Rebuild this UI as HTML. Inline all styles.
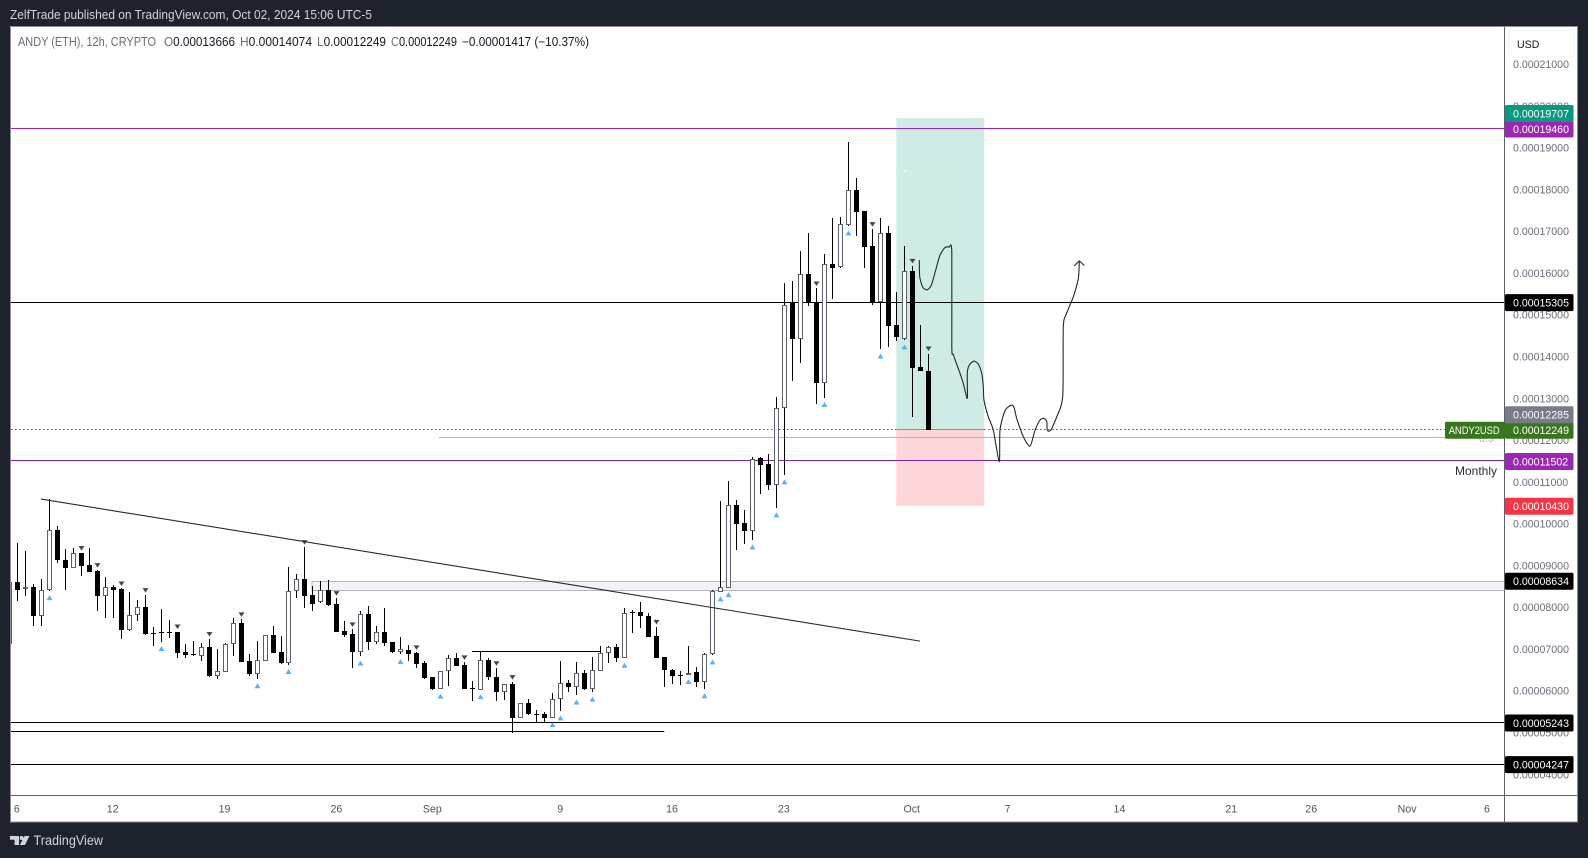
<!DOCTYPE html>
<html lang="en">
<head>
<meta charset="utf-8">
<title>ANDY (ETH) 12h chart</title>
<style>
html,body{margin:0;padding:0;background:#1e222d;width:1588px;height:858px;overflow:hidden}
svg{display:block;font-family:"Liberation Sans",sans-serif}
</style>
</head>
<body>
<svg id="chart" xmlns="http://www.w3.org/2000/svg" width="1588" height="858" viewBox="0 0 1588 858">
  <defs><clipPath id="pane-clip"><rect x="11" y="27" width="1493.5" height="768"/></clipPath></defs>
  <rect x="0" y="0" width="1588" height="858" fill="#1e222d"/>
  <text x="10" y="19" font-size="13" fill="#d1d4dc" textLength="362" lengthAdjust="spacingAndGlyphs">ZelfTrade published on TradingView.com, Oct 02, 2024 15:06 UTC-5</text>
  <rect x="10.5" y="26.5" width="1567" height="795.5" fill="#ffffff" stroke="#8a8d97" stroke-width="1"/>
  <g id="pane" clip-path="url(#pane-clip)"></g>
  <line x1="1504.5" y1="27" x2="1504.5" y2="822" stroke="#5d606b" stroke-width="1"/>
  <line x1="11" y1="795.5" x2="1577" y2="795.5" stroke="#5d606b" stroke-width="1"/>
  <g id="price-axis"></g>
  <g id="time-axis"></g>
  <text x="1479" y="442" font-size="10.6" fill="#b2b5be">0.5</text>
  <text x="1455" y="475" font-size="12" fill="#2a2e39" textLength="42" lengthAdjust="spacingAndGlyphs">Monthly</text>
  <g id="price-tags"></g>
  <rect x="1505.5" y="27" width="71" height="33.5" fill="#ffffff"/>
  <g>
    <rect x="1508.5" y="31" width="66" height="26" rx="4" fill="#ffffff" stroke="#f0f3fa" stroke-width="1"/>
    <text x="1517" y="48" font-size="10.6" fill="#131722">USD</text>
  </g>
  <g font-size="12.5">
    <text x="18" y="46" fill="#6a6d78" textLength="138" lengthAdjust="spacingAndGlyphs">ANDY (ETH), 12h, CRYPTO</text>
    <text x="164" y="46" fill="#131722" textLength="71" lengthAdjust="spacingAndGlyphs"><tspan fill="#6a6d78">O</tspan>0.00013666</text>
    <text x="240" y="46" fill="#131722" textLength="72" lengthAdjust="spacingAndGlyphs"><tspan fill="#6a6d78">H</tspan>0.00014074</text>
    <text x="317" y="46" fill="#131722" textLength="69" lengthAdjust="spacingAndGlyphs"><tspan fill="#6a6d78">L</tspan>0.00012249</text>
    <text x="391" y="46" fill="#131722" textLength="66" lengthAdjust="spacingAndGlyphs"><tspan fill="#6a6d78">C</tspan>0.00012249</text>
    <text x="462" y="46" fill="#131722" textLength="127" lengthAdjust="spacingAndGlyphs">−0.00001417 (−10.37%)</text>
  </g>
  <g>
    <polygon points="10,836 19,836 19,845 14.6,845 14.6,839.7 10,839.7" fill="#d1d4dc"/>
    <circle cx="21.6" cy="838" r="2" fill="#d1d4dc"/>
    <polygon points="24.6,836 29.4,836 25,845 19.8,845" fill="#d1d4dc"/>
    <text x="33.5" y="845" font-size="13.5" fill="#d1d4dc" textLength="69.5" lengthAdjust="spacingAndGlyphs">TradingView</text>
  </g>
</svg>
<script>
// All prices are in units of 0.00001 ETH. Index = bar number (12h bars); bar 1 is Aug 6.
const opens = [7.12,
8.60,8.43,8.49,7.80,8.41,9.84,9.13,8.95,9.29,9.01,
8.87,8.28,8.49,8.44,7.46,7.81,8.01,7.38,7.40,7.40,
7.40,6.93,6.87,6.84,7.04,6.36,6.46,7.11,7.62,6.71,
6.41,6.72,7.34,6.92,6.67,8.38,8.67,8.29,8.12,8.41,
8.07,7.43,7.35,6.94,7.84,7.18,7.41,7.16,6.94,6.98,
6.91,6.67,6.32,6.05,6.47,6.78,6.62,6.07,6.03,6.75,
6.33,5.98,6.16,5.36,5.70,5.45,5.45,5.36,5.80,6.18,
6.08,6.43,6.05,6.48,6.90,7.04,6.79,7.89,7.88,7.78,
7.31,6.80,6.51,6.39,6.39,6.44,6.20,6.87,8.37,8.47,
10.46,10.01,9.83,11.57,11.42,10.93,12.76,15.30,14.43,15.98,
15.30,13.38,16.22,16.15,17.15,17.98,17.48,16.65,15.30,16.97,
14.76,14.43,16.04,13.75,13.666];
const highs = [8.8,
9.54,9.35,8.55,8.68,10.58,9.94,9.40,9.41,9.30,9.42,
8.89,8.72,8.53,8.45,8.37,8.17,8.29,7.53,7.95,7.70,
7.42,7.12,7.19,7.15,7.24,7.00,7.14,7.74,7.71,6.88,
7.19,7.34,7.55,7.31,8.96,8.80,9.44,8.51,8.63,8.65,
8.22,7.67,7.47,7.90,8.03,7.55,7.98,7.17,7.29,7.10,
6.92,6.71,6.34,6.47,6.86,6.90,6.68,6.23,6.94,6.78,
6.54,6.16,6.21,5.72,5.80,5.53,5.49,5.94,6.71,6.26,
6.68,6.51,6.80,7.07,7.07,7.12,7.98,7.93,8.13,7.86,
7.53,6.80,6.52,6.47,7.07,6.56,6.90,8.41,10.54,11.02,
10.57,10.34,11.60,11.59,11.67,13.03,15.75,15.81,16.53,16.96,
15.63,16.45,17.32,17.33,19.13,18.27,17.49,17.05,17.31,17.12,
15.54,16.64,16.17,14.75,14.074];
const lows = [7.0,
8.16,8.28,7.56,7.56,8.40,9.07,8.42,8.95,8.76,8.85,
7.92,7.75,7.75,7.23,7.44,7.68,7.34,7.08,7.18,7.27,
6.79,6.79,6.83,6.72,6.34,6.29,6.46,6.84,6.70,6.36,
6.29,6.72,6.91,6.65,6.63,8.23,7.99,7.90,8.11,8.02,
7.42,7.30,6.55,6.83,6.98,7.12,7.08,6.91,6.87,6.71,
6.55,6.28,6.01,6.04,6.12,6.59,6.04,5.76,6.03,6.27,
5.76,5.78,5.00,5.34,5.41,5.25,5.25,5.36,5.52,5.98,
5.90,6.02,5.97,6.48,6.67,6.70,6.78,7.39,7.51,7.30,
6.79,6.10,6.16,6.15,6.39,6.10,6.05,6.86,8.37,8.47,
9.37,9.51,9.61,10.71,10.81,10.38,11.17,13.42,13.85,15.20,
12.86,13.02,15.39,16.13,17.13,16.89,16.13,15.24,14.18,14.24,
14.38,14.40,12.56,13.66,12.249];
const closes = [8.61,
8.42,8.48,7.80,8.41,9.84,9.12,8.95,9.29,9.00,8.85,
8.28,8.48,8.41,7.46,7.81,8.00,7.37,7.37,7.39,7.39,
6.91,6.86,6.86,7.04,6.36,6.47,7.11,7.62,6.70,6.41,
6.73,7.33,6.91,6.67,8.38,8.67,8.28,8.09,8.41,8.06,
7.42,7.34,6.94,7.83,7.18,7.40,7.15,6.94,6.99,6.89,
6.65,6.31,6.04,6.47,6.78,6.60,6.05,6.06,6.75,6.34,
5.98,6.16,5.36,5.70,5.45,5.44,5.36,5.80,6.18,6.08,
6.42,6.04,6.49,6.90,7.04,6.79,7.86,7.88,7.78,7.30,
6.79,6.51,6.36,6.37,6.43,6.20,6.87,8.38,8.48,10.46,
10.00,9.83,11.56,11.41,10.93,12.76,15.23,14.42,15.97,15.30,
13.38,16.21,16.13,17.17,17.98,17.47,16.63,15.30,16.97,14.74,
14.48,16.04,13.73,13.66,12.249];
const buySignalBars = [5,19,31,35,44,49,54,59,68,69,71,73,77,85,87,88,89,90,93,96,97,102,105,109,112];
const sellSignalBars = [9,11,14,17,21,25,29,37,41,43,51,57,61,63,81,101,108,113,115];
const priceTicks = [4,5,6,7,8,9,10,11,12,13,14,15,16,17,18,19,20,21];
const timeLabels = ['6','12','19','26','Sep','9','16','23','Oct','7','14','21','26','Nov','6'];
const timeLabelDays = [0,6,13,20,26,34,41,48,56,62,69,76,81,87,92];
const tagPrices = [4.247,5.243,8.634,10.430,11.502,12.249,12.285,15.305,19.460,19.707];
const sketchBars = [113.89,113.94,114.32,114.89,115.39,115.94,116.48,117.11,117.61,117.95,117.95,118.15,118.98,119.39,119.89,119.89,120.14,120.73,121.27,121.70,121.90,121.98,122.52,123.15,123.90,123.99,124.62,125.46,125.78,126.08,126.91,127.75,128.38,129.00,129.50,129.84,129.91,130.34,131.09,131.84,131.91,132.34,133.16,133.79,133.91];
const sketchPrices = [16.30,15.91,15.66,15.60,15.71,16.07,16.43,16.61,16.62,16.51,14.24,14.04,13.60,13.36,13.00,13.60,13.80,13.89,13.82,13.60,13.28,12.96,12.56,12.24,11.48,12.24,12.71,12.84,12.76,12.52,12.08,11.86,12.24,12.48,12.52,12.44,12.24,12.24,12.56,13.04,14.72,15.04,15.43,15.87,16.29];
const arrowBars = [133.29,133.91,134.54];
const arrowPrices = [16.17,16.29,16.18];
const trendBars = [3.96,113.98];
const trendPrices = [10.59,7.19];
const rangeHighBars = [57.91,73.93];
const rangeHighPrice = 6.95;
const supportEndBar = 81.97;
const supportPrice = 5.03;
const zonePrices = [8.62,8.40];
const zoneStartBar = 37.88;
const fibPrice = 12.07;
const fibStartBar = 53.78;
const positionBars = [111,122];
const positionPrices = [19.707,12.249,10.430];
const monthlyLevel = 11.502;
const resistanceLevel = 19.46;
const midLevel = 15.305;
const lowLevel1 = 5.243;
const lowLevel2 = 4.247;
const lastPrice = 12.249;

const NS = 'http://www.w3.org/2000/svg';
const tagColors = ['#000000','#000000','#000000','#f23645','#9c27b0','#38761d','#787b86','#000000','#9c27b0','#089981'];
const xOf = b => 9.34 + 7.99 * b;
const yOf = p => 147.7 + (19 - p) * 41.78;
const crisp = v => Math.floor(v) + 0.5;
const PANE_L = 11, PANE_R = 1504.5;
const pane = document.getElementById('pane');
const axisP = document.getElementById('price-axis');
const axisT = document.getElementById('time-axis');
const tagsG = document.getElementById('price-tags');

function mk(tag, attrs, parent) {
  const n = document.createElementNS(NS, tag);
  for (const k in attrs) n.setAttribute(k, attrs[k]);
  parent.appendChild(n);
  return n;
}
function hline(price, x1, x2, color, dash) {
  const a = {x1: x1, x2: x2, y1: crisp(yOf(price)), y2: crisp(yOf(price)), stroke: color, 'stroke-width': 1};
  if (dash) a['stroke-dasharray'] = dash;
  return mk('line', a, pane);
}
let el;

// position tool
el = mk('rect', {x: xOf(positionBars[0]), y: yOf(positionPrices[0]), width: xOf(positionBars[1]) - xOf(positionBars[0]), height: yOf(positionPrices[1]) - yOf(positionPrices[0]), fill: '#cfebe5'}, pane);


el = mk('rect', {x: xOf(positionBars[0]), y: yOf(positionPrices[1]), width: xOf(positionBars[1]) - xOf(positionBars[0]), height: yOf(positionPrices[2]) - yOf(positionPrices[1]), fill: '#fcd6d9'}, pane);


el = mk('rect', {x: xOf(positionBars[0]) + 7.5, y: 170, width: 2, height: 2, fill: '#f2faf8'}, pane);



// zone
el = mk('rect', {x: xOf(zoneStartBar), y: crisp(yOf(zonePrices[0])), width: PANE_R - xOf(zoneStartBar), height: Math.round(yOf(zonePrices[1]) - yOf(zonePrices[0])), fill: '#f1f3f6', stroke: '#b2b5be', 'stroke-width': 1}, pane);



// horizontal levels
el = hline(resistanceLevel, PANE_L, PANE_R, '#9c27b0');


el = hline(midLevel, PANE_L, PANE_R, '#000000');


el = hline(lastPrice, PANE_L, xOf(positionBars[0]), '#38761d', '1.5 2.5');


el = hline(lastPrice, xOf(positionBars[1]), 1445, '#38761d', '1.5 2.5');


el = hline(positionPrices[1], xOf(positionBars[0]), xOf(positionBars[1]), '#8f9198');


el = hline(fibPrice, xOf(fibStartBar), PANE_R, '#b2b5be');


el = hline(monthlyLevel, PANE_L, PANE_R, '#8424a0');


el = hline(lowLevel1, PANE_L, PANE_R, '#000000');


el = hline(lowLevel2, PANE_L, PANE_R, '#000000');


el = hline(supportPrice, PANE_L, xOf(supportEndBar), '#000000');


el = hline(rangeHighPrice, xOf(rangeHighBars[0]), xOf(rangeHighBars[1]), '#000000');



// candles
opens.forEach((o, i) => {
  const c = closes[i];
  const cx = Math.floor(xOf(i));
  const up = c > o;
  const top = Math.round(yOf(Math.max(o, c)));
  const bot = Math.max(Math.round(yOf(Math.min(o, c))), top + 1);
  const g = mk('g', {}, pane);
  
  
  const wTop = Math.round(yOf(highs[i]));
  const wBot = Math.round(yOf(lows[i]));
  const w = mk('rect', {x: cx, y: wTop, width: 1, height: Math.max(wBot - wTop, 1), fill: '#000000'}, g);
  
  
  const b = up
    ? mk('rect', {x: cx - 1.5, y: top + 0.5, width: 4, height: Math.max(bot - top - 1, 1), fill: '#ffffff', stroke: '#5d606b', 'stroke-width': 1}, g)
    : mk('rect', {x: cx - 2, y: top, width: 5, height: bot - top, fill: '#000000'}, g);
  
  
});

// signals
buySignalBars.forEach(b => {
  const cx = Math.floor(xOf(b)) + 0.5, cy = yOf(lows[b]) + 7;
  const t = mk('polygon', {points: `${cx - 3},${cy + 2.5} ${cx + 3},${cy + 2.5} ${cx},${cy - 2.5}`, fill: '#5cb0f5'}, pane);
  
  
});
sellSignalBars.forEach(b => {
  const cx = Math.floor(xOf(b)) + 0.5, cy = yOf(highs[b]) - 5;
  const t = mk('polygon', {points: `${cx - 3},${cy - 2} ${cx + 3},${cy - 2} ${cx},${cy + 2.5}`, fill: '#434651'}, pane);
  
  
});

// trendline
el = mk('line', {x1: xOf(trendBars[0]), y1: yOf(trendPrices[0]), x2: xOf(trendBars[1]), y2: yOf(trendPrices[1]), stroke: '#2a2a2e', 'stroke-width': 1.1}, pane);



// hand-drawn projection, smoothed with a Catmull-Rom spline through the read points
function smoothPath(bs, ps) {
  const pts = bs.map((b, i) => [xOf(b), yOf(ps[i])]);
  let d = 'M' + pts[0][0].toFixed(1) + ' ' + pts[0][1].toFixed(1);
  for (let i = 0; i < pts.length - 1; i++) {
    const p0 = pts[Math.max(i - 1, 0)], p1 = pts[i], p2 = pts[i + 1], p3 = pts[Math.min(i + 2, pts.length - 1)];
    const c1x = p1[0] + (p2[0] - p0[0]) / 8, c1y = p1[1] + (p2[1] - p0[1]) / 8;
    const c2x = p2[0] - (p3[0] - p1[0]) / 8, c2y = p2[1] - (p3[1] - p1[1]) / 8;
    d += ' C' + c1x.toFixed(1) + ' ' + c1y.toFixed(1) + ' ' + c2x.toFixed(1) + ' ' + c2y.toFixed(1) + ' ' + p2[0].toFixed(1) + ' ' + p2[1].toFixed(1);
  }
  return d;
}
const toPts = (bs, ps) => bs.map((b, i) => xOf(b).toFixed(1) + ',' + yOf(ps[i]).toFixed(1)).join(' ');
el = mk('path', {d: smoothPath(sketchBars, sketchPrices), fill: 'none', stroke: '#26262a', 'stroke-width': 1.1, 'stroke-linejoin': 'round', 'stroke-linecap': 'round'}, pane);


el = mk('polyline', {points: toPts(arrowBars, arrowPrices), fill: 'none', stroke: '#26262a', 'stroke-width': 1.1, 'stroke-linejoin': 'round'}, pane);



// price axis ticks
priceTicks.forEach(p => {
  const t = mk('text', {x: 1513, y: yOf(p) + 3.9, 'font-size': 10.6, fill: '#6a6d78'}, axisP);
  
  
  t.textContent = (p * 1e-5).toFixed(8);
});

// time axis
timeLabels.forEach((s, i) => {
  const t = mk('text', {x: xOf(1 + timeLabelDays[i] * 2) - 0.5, y: 812.5, 'font-size': 10.6, fill: '#50535e', 'text-anchor': 'middle'}, axisT);
  
  
  t.textContent = s;
});

// price tags: stacked upward when two would overlap
const TAG_H = 17, TAG_STEP = 15.5;
let prevY = Infinity;
tagPrices.forEach((p, i) => {
  const cy = Math.min(yOf(p) + 0.5, prevY - TAG_STEP);
  prevY = cy;
  const r = mk('rect', {x: 1505, y: cy - TAG_H / 2, width: 68.5, height: TAG_H, rx: 1.5, fill: tagColors[i]}, tagsG);
  
  
  const t = mk('text', {x: 1513, y: cy + 3.9, 'font-size': 10.6, fill: '#ffffff'}, tagsG);
  
  
  t.textContent = (p * 1e-5).toFixed(8);
  if (p === lastPrice) {
    const r2 = mk('rect', {x: 1445, y: cy - TAG_H / 2, width: 60, height: TAG_H, rx: 1.5, fill: tagColors[i]}, tagsG);
    
    
    const t2 = mk('text', {x: 1448.7, y: cy + 3.9, 'font-size': 10.6, fill: '#ffffff', textLength: 51, lengthAdjust: 'spacingAndGlyphs'}, tagsG);
    
    
    t2.textContent = 'ANDY2USD';
  }
});
</script>
</body>
</html>
